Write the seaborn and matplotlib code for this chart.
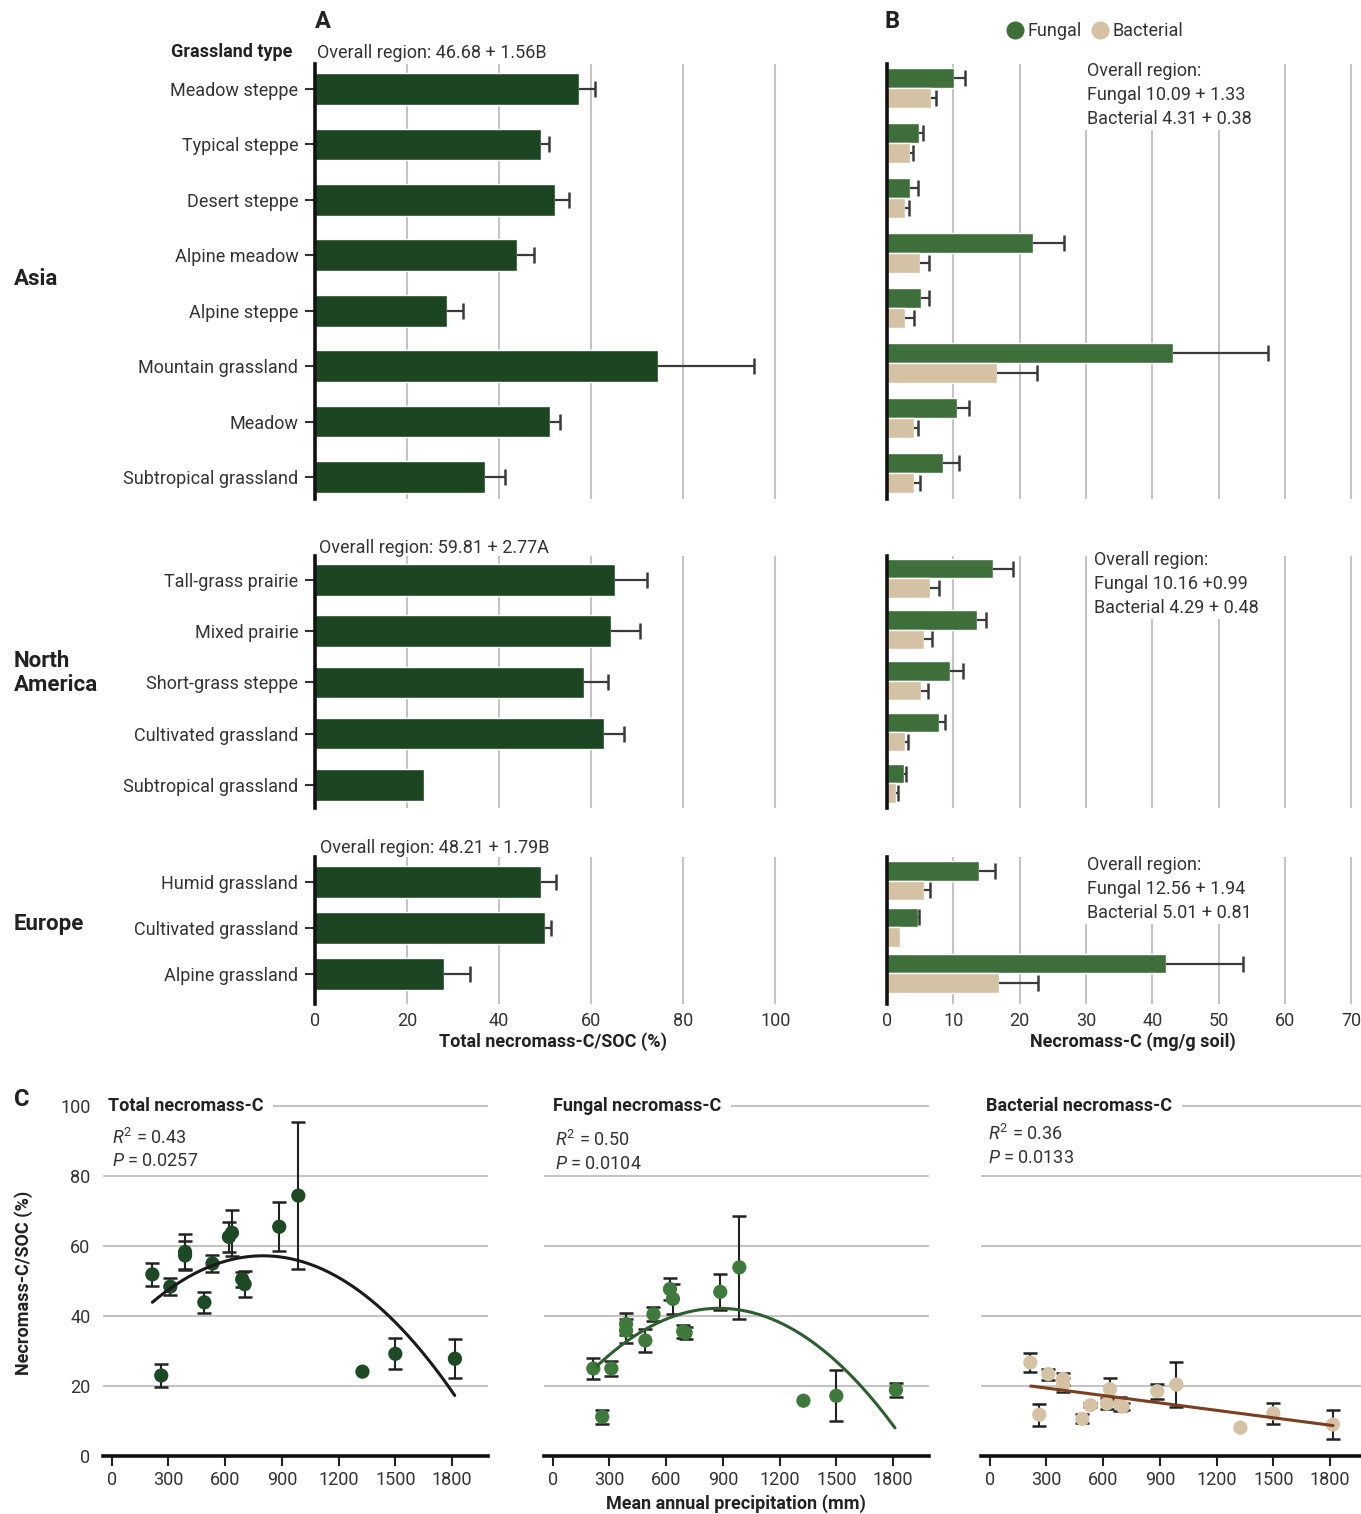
import numpy as np
import pandas as pd
import matplotlib
matplotlib.use("Agg")
import matplotlib.pyplot as plt
from matplotlib.lines import Line2D
import seaborn as sns

# ---------------- data ----------------
# Panel A: total necromass-C / SOC (%) by grassland type
asia_types = ["Meadow steppe", "Typical steppe", "Desert steppe", "Alpine meadow",
              "Alpine steppe", "Mountain grassland", "Meadow", "Subtropical grassland"]
asia_total = [57.3, 49.1, 52.2, 43.9, 28.6, 74.6, 51.0, 36.9]
asia_total_se = [3.5, 1.8, 3.0, 3.7, 3.5, 20.8, 2.3, 4.4]

na_types = ["Tall-grass prairie", "Mixed prairie", "Short-grass steppe",
            "Cultivated grassland", "Subtropical grassland"]
na_total = [65.2, 64.3, 58.5, 62.8, 23.7]
na_total_se = [7.0, 6.4, 5.2, 4.4, 0.0]

eu_types = ["Humid grassland", "Cultivated grassland", "Alpine grassland"]
eu_total = [49.1, 50.0, 28.1]
eu_total_se = [3.3, 1.3, 5.5]

# Panel B: fungal and bacterial necromass-C (mg/g soil)
asia_fungal = [10.1, 4.8, 3.5, 22.0, 5.1, 43.1, 10.6, 8.4]
asia_fungal_se = [1.6, 0.6, 1.1, 4.7, 1.3, 14.3, 1.7, 2.4]
asia_bact = [6.6, 3.5, 2.7, 5.0, 2.7, 16.6, 4.1, 4.1]
asia_bact_se = [0.8, 0.4, 0.6, 1.4, 1.3, 6.0, 0.5, 0.9]

na_fungal = [16.0, 13.6, 9.5, 7.8, 2.6]
na_fungal_se = [3.0, 1.4, 2.0, 1.0, 0.2]
na_bact = [6.5, 5.6, 5.1, 2.7, 1.4]
na_bact_se = [1.3, 1.2, 1.1, 0.5, 0.2]

eu_fungal = [13.9, 4.7, 42.1]
eu_fungal_se = [2.4, 0.2, 11.6]
eu_bact = [5.6, 2.0, 16.9]
eu_bact_se = [0.9, 0.0, 5.9]

overall_a = ["Overall region: 46.68 + 1.56B", "Overall region: 59.81 + 2.77A",
             "Overall region: 48.21 + 1.79B"]
overall_b = ["Overall region:\nFungal 10.09 + 1.33\nBacterial 4.31 + 0.38",
             "Overall region:\nFungal 10.16 +0.99\nBacterial 4.29 + 0.48",
             "Overall region:\nFungal 12.56 + 1.94\nBacterial 5.01 + 0.81"]
regions = ["Asia", "North\nAmerica", "Europe"]
kinds = ["Fungal", "Bacterial"]

# Panel C: necromass-C / SOC (%) against mean annual precipitation (mm)
map_mm = [215, 262, 310, 388, 388, 490, 533, 620, 636, 690, 703, 886, 987, 1326, 1500, 1815]
total_pct = [51.9, 23.0, 48.4, 58.3, 57.3, 43.9, 55.0, 62.6, 63.8, 50.5, 49.1, 65.5, 74.4, 24.1, 29.2, 27.8]
total_pct_se = [3.2, 3.3, 2.5, 5.2, 4.0, 3.0, 2.3, 4.2, 6.6, 2.1, 3.8, 7.0, 21.0, 0.0, 4.4, 5.6]
fungal_pct = [25.0, 11.2, 25.0, 37.7, 35.8, 33.0, 40.5, 47.7, 44.9, 35.6, 35.2, 46.9, 53.9, 15.8, 17.2, 18.9]
fungal_pct_se = [2.9, 2.0, 2.2, 3.2, 3.4, 3.3, 2.0, 3.2, 4.3, 1.8, 1.8, 5.2, 14.7, 0.0, 7.3, 2.0]
bact_pct = [26.7, 11.8, 23.4, 22.0, 20.3, 10.6, 14.5, 15.0, 19.1, 15.0, 14.1, 18.5, 20.4, 8.1, 12.2, 9.0]
bact_pct_se = [2.6, 3.1, 1.6, 1.8, 2.0, 1.3, 0.6, 1.6, 3.2, 2.0, 1.0, 2.1, 6.4, 0.0, 3.0, 4.1]

# fitted regressions (polynomial coefficients, highest power first) and fitted x-range
total_fit = [-3.88e-5, 0.06208, 32.37]
total_fit_range = (215, 1814)
fungal_fit = [-3.95e-5, 0.06952, 11.61]
fungal_fit_range = (235, 1810)
bact_fit = [-0.00707, 21.53]
bact_fit_range = (217, 1816)
stats_txt = [("0.43", "0.0257"), ("0.50", "0.0104"), ("0.36", "0.0133")]
c_titles = ["Total necromass-C", "Fungal necromass-C", "Bacterial necromass-C"]

# ---------------- style ----------------
DARK = "#1c4521"
FUNGAL = "#3e6e3a"
BACT = "#d5c1a3"
DOT_TOTAL = "#1d4a24"
DOT_FUNGAL = "#3f7a3c"
GRID = "#c4c4c4"
TXT = "#333333"
INK = "#222222"
FS = 13

sns.set_theme(style="white")
plt.rcParams['font.family'] = ['Roboto', 'DejaVu Sans']
plt.rcParams['mathtext.fontset'] = 'custom'
plt.rcParams['mathtext.rm'] = 'Roboto'
plt.rcParams['mathtext.it'] = 'Roboto:italic'
plt.rcParams['text.color'] = TXT

W, H = 1361, 1514
fig = plt.figure(figsize=(W / 100, H / 100), dpi=100)


def rect(l, t, r, b):
    return [l / W, 1 - b / H, (r - l) / W, (b - t) / H]


def fp(x, y):
    return x / W, 1 - y / H


def style_bar_axes(ax):
    for s in ["top", "right", "bottom"]:
        ax.spines[s].set_visible(False)
    ax.spines["left"].set_color("#111111")
    ax.spines["left"].set_linewidth(2.6)
    ax.grid(axis="x", color=GRID, lw=1.5)
    ax.grid(axis="y", visible=False)
    ax.set_axisbelow(True)
    ax.set_xlabel("")
    ax.set_ylabel("")


def plus_errorbars(ax, vals, errs, centers):
    v = np.asarray(vals, float)
    e = np.asarray(errs, float)
    c = np.asarray(centers, float)
    keep = e > 0
    _, caps, _ = ax.errorbar(v[keep], c[keep], xerr=[np.zeros(keep.sum()), e[keep]],
                             fmt="none", ecolor="#3a3a3a", elinewidth=1.6,
                             capsize=6, capthick=1.8, zorder=4)
    # only the outer cap is shown
    for cl in caps:
        if np.allclose(cl.get_xdata(), v[keep]):
            cl.set_visible(False)
        else:
            cl.set_color("#111111")


# section geometry: (top, bottom) pixel rows and y-limits for panels A and B
sections = [
    dict(types=asia_types, tot=asia_total, tot_se=asia_total_se,
         fun=asia_fungal, fun_se=asia_fungal_se, bac=asia_bact, bac_se=asia_bact_se,
         top=64, bot=499, ylim_a=(7.397, -0.451), w_a=0.572,
         ylim_b=(7.476, -0.436), w_b=0.72),
    dict(types=na_types, tot=na_total, tot_se=na_total_se,
         fun=na_fungal, fun_se=na_fungal_se, bac=na_bact, bac_se=na_bact_se,
         top=556, bot=808, ylim_a=(4.449, -0.468), w_a=0.615,
         ylim_b=(4.48, -0.435), w_b=0.755),
    dict(types=eu_types, tot=eu_total, tot_se=eu_total_se,
         fun=eu_fungal, fun_se=eu_fungal_se, bac=eu_bact, bac_se=eu_bact_se,
         top=857, bot=1004, ylim_a=(2.65, -0.538), w_a=0.683,
         ylim_b=(2.66, -0.512), w_b=0.84),
]

overall_a_pos = [(317, 53), (319, 548), (320, 848)]
overall_b_pos = [(1087, 95), (1094, 584), (1087, 889)]
region_pos = [(14, 279), (14, 673), (14, 924)]

for i, sec in enumerate(sections):
    last = i == len(sections) - 1
    # ---- panel A ----
    axa = fig.add_axes(rect(315, sec["top"], 791, sec["bot"]))
    dfa = pd.DataFrame({"type": sec["types"], "value": sec["tot"]})
    sns.barplot(data=dfa, x="value", y="type", orient="h", color=DARK,
                saturation=1, width=sec["w_a"], errorbar=None, ax=axa)
    centers = [p.get_y() + p.get_height() / 2 for p in axa.containers[0]]
    plus_errorbars(axa, sec["tot"], sec["tot_se"], centers)
    style_bar_axes(axa)
    axa.set_xlim(0, 103.4)
    axa.set_ylim(*sec["ylim_a"])
    axa.set_xticks([0, 20, 40, 60, 80, 100])
    axa.tick_params(axis="y", left=True, length=7, width=1.5, color=TXT, pad=5,
                    labelsize=FS, labelcolor=TXT)
    axa.tick_params(axis="x", bottom=False, length=0, labelbottom=last, labelsize=FS,
                    labelcolor=TXT, pad=6)
    fig.text(*fp(*overall_a_pos[i]), overall_a[i], fontsize=FS, va="center", ha="left")

    # ---- panel B ----
    axb = fig.add_axes(rect(887, sec["top"], 1379, sec["bot"]))
    dfb = pd.DataFrame({
        "type": sec["types"] * 2,
        "kind": [kinds[0]] * len(sec["types"]) + [kinds[1]] * len(sec["types"]),
        "value": list(sec["fun"]) + list(sec["bac"]),
    })
    sns.barplot(data=dfb, x="value", y="type", hue="kind", hue_order=kinds, orient="h",
                palette={"Fungal": FUNGAL, "Bacterial": BACT}, saturation=1,
                width=sec["w_b"], errorbar=None, legend=False, ax=axb)
    for cont, vals, errs in zip(axb.containers, [sec["fun"], sec["bac"]],
                                [sec["fun_se"], sec["bac_se"]]):
        cc = [p.get_y() + p.get_height() / 2 for p in cont]
        plus_errorbars(axb, vals, errs, cc)
    style_bar_axes(axb)
    axb.set_xlim(0, 74.2)
    axb.set_ylim(*sec["ylim_b"])
    axb.set_xticks([0, 10, 20, 30, 40, 50, 60, 70])
    axb.set_yticks([])
    axb.tick_params(axis="x", bottom=False, length=0, labelbottom=last, labelsize=FS,
                    labelcolor=TXT, pad=6)
    axb.text(*fp(*overall_b_pos[i]), overall_b[i], transform=fig.transFigure,
             fontsize=FS, va="center", ha="left", linespacing=1.4, zorder=6,
             bbox=dict(boxstyle="square,pad=0.15", fc="white", ec="none"))

    fig.text(*fp(*region_pos[i]), regions[i], fontsize=16, fontweight="bold",
             color=INK, va="center", ha="left", linespacing=1.15)

# headers and axis titles for A and B
fig.text(*fp(315, 22), "A", fontsize=17, fontweight="bold", color=INK, va="center")
fig.text(*fp(884, 22), "B", fontsize=17, fontweight="bold", color=INK, va="center")
fig.text(*fp(292, 52), "Grassland type", fontsize=FS, fontweight="bold", color=INK,
         va="center", ha="right")
fig.text(*fp(553, 1042), "Total necromass-C/SOC (%)", fontsize=FS, fontweight="bold",
         color=INK, va="center", ha="center")
fig.text(*fp(1133, 1042), "Necromass-C (mg/g soil)", fontsize=FS, fontweight="bold",
         color=INK, va="center", ha="center")

handles = [Line2D([], [], marker="o", ls="", markersize=12, color=FUNGAL, label="Fungal"),
           Line2D([], [], marker="o", ls="", markersize=12, color=BACT, label="Bacterial")]
fig.legend(handles=handles, loc="center left", bbox_to_anchor=fp(1006, 31), ncol=2,
           frameon=False, fontsize=FS, handletextpad=0.2, columnspacing=0.5,
           handlelength=1.0, borderaxespad=0, borderpad=0)

# ---------------- panel C ----------------
c_lefts = [103, 544, 981]
c_series = [(total_pct, total_pct_se, DOT_TOTAL, total_fit, total_fit_range, "#1a1a1a"),
            (fungal_pct, fungal_pct_se, DOT_FUNGAL, fungal_fit, fungal_fit_range, "#2e5e30"),
            (bact_pct, bact_pct_se, BACT, bact_fit, bact_fit_range, "#7a3f20")]
title_x = [0.013, 0.023, 0.013]
stat_pos = [(112, 1138, 1161), (555, 1140, 1164), (988, 1134, 1158)]
mm = np.asarray(map_mm, float)

for j, (left, (yv, ye, col, fit, frange, lcol)) in enumerate(zip(c_lefts, c_series)):
    ax = fig.add_axes(rect(left, 1102.5, left + 385, 1456))
    yv_a = np.asarray(yv, float)
    ye_a = np.asarray(ye, float)
    has_err = ye_a > 0
    ax.errorbar(mm[has_err], yv_a[has_err], yerr=ye_a[has_err], fmt="none",
                ecolor="#222222", elinewidth=1.5, capsize=5, capthick=1.8, zorder=2)
    sns.scatterplot(x=map_mm, y=yv, color=col, s=105, edgecolor="none", ax=ax, zorder=3)
    xs = np.linspace(frange[0], frange[1], 200)
    sns.lineplot(x=xs, y=np.polyval(fit, xs), color=lcol, lw=2.2, ax=ax, zorder=4)
    ax.set_xlim(-46, 1990)
    ax.set_ylim(0, 101)
    ax.set_xticks([0, 300, 600, 900, 1200, 1500, 1800])
    ax.set_yticks([0, 20, 40, 60, 80, 100])
    ax.grid(axis="y", color=GRID, lw=1.5)
    ax.grid(axis="x", visible=False)
    ax.set_axisbelow(True)
    for s in ["top", "right", "left"]:
        ax.spines[s].set_visible(False)
    ax.spines["bottom"].set_color("#111111")
    ax.spines["bottom"].set_linewidth(2.6)
    ax.tick_params(axis="x", bottom=True, length=7, width=1.5, color=INK, pad=4,
                   labelsize=FS, labelcolor=TXT)
    ax.tick_params(axis="y", left=False, length=0, pad=9, labelsize=FS, labelcolor=TXT,
                   labelleft=(j == 0))
    ax.set_xlabel("")
    ax.set_ylabel("")
    ax.text(title_x[j], 100, c_titles[j], transform=ax.get_yaxis_transform(),
            fontsize=FS, fontweight="bold", color=INK, va="center", ha="left",
            zorder=6, clip_on=False,
            bbox=dict(boxstyle="square,pad=0.55", fc="white", ec="none"))
    sx, sy1, sy2 = stat_pos[j]
    fig.text(*fp(sx, sy1), r"$\mathit{R}^{2}$ = " + stats_txt[j][0], fontsize=FS,
             va="center", ha="left")
    fig.text(*fp(sx, sy2), r"$\mathit{P}$ = " + stats_txt[j][1], fontsize=FS,
             va="center", ha="left")

fig.text(*fp(14, 1100), "C", fontsize=17, fontweight="bold", color=INK, va="center")
fig.text(*fp(24, 1283), "Necromass-C/SOC (%)", fontsize=FS, fontweight="bold",
         color=INK, va="center", ha="center", rotation=90)
fig.text(*fp(736, 1504), "Mean annual precipitation (mm)", fontsize=FS,
         fontweight="bold", color=INK, va="center", ha="center")

fig.savefig("out.png", dpi=100, facecolor="white")
